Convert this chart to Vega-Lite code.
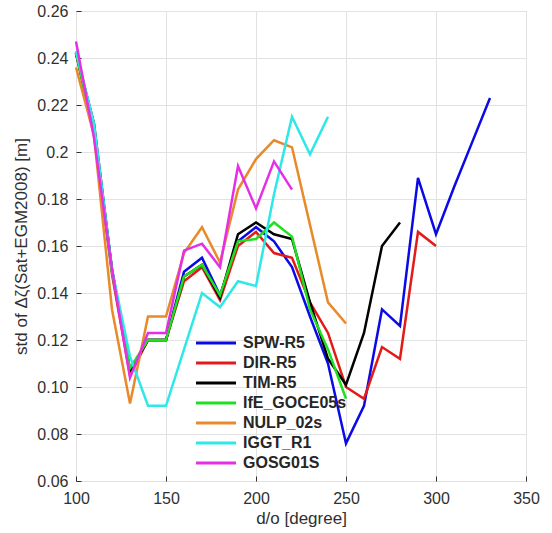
{
  "$schema": "https://vega.github.io/schema/vega-lite/v6.json",
  "autosize": "none",
  "width": 450,
  "height": 470,
  "padding": {"left": 76, "top": 11, "right": 26, "bottom": 52},
  "background": "white",
  "config": {
    "font": "Liberation Sans",
    "view": {"stroke": "#a8a8a8", "strokeWidth": 1},
    "axis": {
      "grid": true, "gridColor": "#e2e2e2", "gridWidth": 1,
      "domain": false,
      "tickColor": "#303030", "tickSize": -5, "tickWidth": 1,
      "labelColor": "#303030", "labelFontSize": 16, "labelFont": "Liberation Sans",
      "titleColor": "#303030", "titleFont": "Liberation Sans", "titleFontWeight": "normal", "titleFontSize": 17
    }
  },
  "data": {"values": [
    {"s":"SPW-R5","x":100,"y":0.242},{"s":"SPW-R5","x":110,"y":0.209},{"s":"SPW-R5","x":120,"y":0.150},{"s":"SPW-R5","x":130,"y":0.107},{"s":"SPW-R5","x":140,"y":0.120},{"s":"SPW-R5","x":150,"y":0.120},{"s":"SPW-R5","x":160,"y":0.149},{"s":"SPW-R5","x":170,"y":0.155},{"s":"SPW-R5","x":180,"y":0.139},{"s":"SPW-R5","x":190,"y":0.162},{"s":"SPW-R5","x":200,"y":0.168},{"s":"SPW-R5","x":210,"y":0.162},{"s":"SPW-R5","x":220,"y":0.151},{"s":"SPW-R5","x":230,"y":0.130},{"s":"SPW-R5","x":240,"y":0.110},{"s":"SPW-R5","x":250,"y":0.076},{"s":"SPW-R5","x":260,"y":0.092},{"s":"SPW-R5","x":270,"y":0.133},{"s":"SPW-R5","x":280,"y":0.126},{"s":"SPW-R5","x":290,"y":0.189},{"s":"SPW-R5","x":300,"y":0.165},{"s":"SPW-R5","x":310,"y":0.185},{"s":"SPW-R5","x":320,"y":0.204},{"s":"SPW-R5","x":330,"y":0.223},
    {"s":"DIR-R5","x":100,"y":0.242},{"s":"DIR-R5","x":110,"y":0.208},{"s":"DIR-R5","x":120,"y":0.148},{"s":"DIR-R5","x":130,"y":0.105},{"s":"DIR-R5","x":140,"y":0.120},{"s":"DIR-R5","x":150,"y":0.120},{"s":"DIR-R5","x":160,"y":0.145},{"s":"DIR-R5","x":170,"y":0.151},{"s":"DIR-R5","x":180,"y":0.137},{"s":"DIR-R5","x":190,"y":0.160},{"s":"DIR-R5","x":200,"y":0.166},{"s":"DIR-R5","x":210,"y":0.157},{"s":"DIR-R5","x":220,"y":0.155},{"s":"DIR-R5","x":230,"y":0.136},{"s":"DIR-R5","x":240,"y":0.123},{"s":"DIR-R5","x":250,"y":0.100},{"s":"DIR-R5","x":260,"y":0.095},{"s":"DIR-R5","x":270,"y":0.117},{"s":"DIR-R5","x":280,"y":0.112},{"s":"DIR-R5","x":290,"y":0.166},{"s":"DIR-R5","x":300,"y":0.160},
    {"s":"TIM-R5","x":100,"y":0.242},{"s":"TIM-R5","x":110,"y":0.212},{"s":"TIM-R5","x":120,"y":0.150},{"s":"TIM-R5","x":130,"y":0.107},{"s":"TIM-R5","x":140,"y":0.120},{"s":"TIM-R5","x":150,"y":0.120},{"s":"TIM-R5","x":160,"y":0.147},{"s":"TIM-R5","x":170,"y":0.152},{"s":"TIM-R5","x":180,"y":0.138},{"s":"TIM-R5","x":190,"y":0.165},{"s":"TIM-R5","x":200,"y":0.170},{"s":"TIM-R5","x":210,"y":0.165},{"s":"TIM-R5","x":220,"y":0.163},{"s":"TIM-R5","x":230,"y":0.136},{"s":"TIM-R5","x":240,"y":0.112},{"s":"TIM-R5","x":250,"y":0.101},{"s":"TIM-R5","x":260,"y":0.123},{"s":"TIM-R5","x":270,"y":0.160},{"s":"TIM-R5","x":280,"y":0.170},
    {"s":"IfE_GOCE05s","x":100,"y":0.242},{"s":"IfE_GOCE05s","x":110,"y":0.209},{"s":"IfE_GOCE05s","x":120,"y":0.149},{"s":"IfE_GOCE05s","x":130,"y":0.108},{"s":"IfE_GOCE05s","x":140,"y":0.120},{"s":"IfE_GOCE05s","x":150,"y":0.120},{"s":"IfE_GOCE05s","x":160,"y":0.147},{"s":"IfE_GOCE05s","x":170,"y":0.152},{"s":"IfE_GOCE05s","x":180,"y":0.139},{"s":"IfE_GOCE05s","x":190,"y":0.162},{"s":"IfE_GOCE05s","x":200,"y":0.163},{"s":"IfE_GOCE05s","x":210,"y":0.170},{"s":"IfE_GOCE05s","x":220,"y":0.164},{"s":"IfE_GOCE05s","x":230,"y":0.133},{"s":"IfE_GOCE05s","x":240,"y":0.116},{"s":"IfE_GOCE05s","x":250,"y":0.095},
    {"s":"NULP_02s","x":100,"y":0.236},{"s":"NULP_02s","x":110,"y":0.207},{"s":"NULP_02s","x":120,"y":0.133},{"s":"NULP_02s","x":130,"y":0.093},{"s":"NULP_02s","x":140,"y":0.130},{"s":"NULP_02s","x":150,"y":0.130},{"s":"NULP_02s","x":160,"y":0.157},{"s":"NULP_02s","x":170,"y":0.168},{"s":"NULP_02s","x":180,"y":0.153},{"s":"NULP_02s","x":190,"y":0.184},{"s":"NULP_02s","x":200,"y":0.197},{"s":"NULP_02s","x":210,"y":0.205},{"s":"NULP_02s","x":220,"y":0.202},{"s":"NULP_02s","x":230,"y":0.169},{"s":"NULP_02s","x":240,"y":0.136},{"s":"NULP_02s","x":250,"y":0.127},
    {"s":"IGGT_R1","x":100,"y":0.243},{"s":"IGGT_R1","x":110,"y":0.212},{"s":"IGGT_R1","x":120,"y":0.150},{"s":"IGGT_R1","x":130,"y":0.113},{"s":"IGGT_R1","x":140,"y":0.092},{"s":"IGGT_R1","x":150,"y":0.092},{"s":"IGGT_R1","x":160,"y":0.116},{"s":"IGGT_R1","x":170,"y":0.140},{"s":"IGGT_R1","x":180,"y":0.134},{"s":"IGGT_R1","x":190,"y":0.145},{"s":"IGGT_R1","x":200,"y":0.143},{"s":"IGGT_R1","x":210,"y":0.182},{"s":"IGGT_R1","x":220,"y":0.215},{"s":"IGGT_R1","x":230,"y":0.199},{"s":"IGGT_R1","x":240,"y":0.215},
    {"s":"GOSG01S","x":100,"y":0.247},{"s":"GOSG01S","x":110,"y":0.206},{"s":"GOSG01S","x":120,"y":0.150},{"s":"GOSG01S","x":130,"y":0.104},{"s":"GOSG01S","x":140,"y":0.123},{"s":"GOSG01S","x":150,"y":0.123},{"s":"GOSG01S","x":160,"y":0.158},{"s":"GOSG01S","x":170,"y":0.161},{"s":"GOSG01S","x":180,"y":0.151},{"s":"GOSG01S","x":190,"y":0.194},{"s":"GOSG01S","x":200,"y":0.176},{"s":"GOSG01S","x":210,"y":0.196},{"s":"GOSG01S","x":220,"y":0.184}
  ]},
  "mark": {"type": "line", "strokeWidth": 2.5, "strokeJoin": "miter"},
  "encoding": {
    "x": {
      "field": "x", "type": "quantitative",
      "scale": {"domain": [100, 350], "nice": false, "zero": false},
      "axis": {"values": [100, 150, 200, 250, 300, 350], "title": "d/o [degree]", "labelPadding": 14, "titlePadding": 4, "labelFlush": false}
    },
    "y": {
      "field": "y", "type": "quantitative",
      "scale": {"domain": [0.06, 0.26], "nice": false, "zero": false},
      "axis": {
        "values": [0.06, 0.08, 0.1, 0.12, 0.14, 0.16, 0.18, 0.2, 0.22, 0.24, 0.26],
        "labelExpr": "datum.value == 0.2 ? '0.2' : format(datum.value, '.2f')",
        "title": "std of Δζ(Sat+EGM2008) [m]", "labelPadding": 13, "titlePadding": 6, "labelFlush": false
      }
    },
    "color": {
      "field": "s", "type": "nominal", "sort": null,
      "scale": {
        "domain": ["SPW-R5", "DIR-R5", "TIM-R5", "IfE_GOCE05s", "NULP_02s", "IGGT_R1", "GOSG01S"],
        "range": ["#0a0ae6", "#e21a1a", "#000000", "#1ee01e", "#e8892a", "#2ee8e8", "#e62ee6"]
      },
      "legend": {
        "title": null, "orient": "none", "legendX": 132, "legendY": 324,
        "symbolType": "M-4,0L4,0", "symbolSize": 100, "symbolStrokeWidth": 3,
        "labelFontSize": 16, "labelFontWeight": "bold", "labelColor": "#262626", "labelFont": "Liberation Sans",
        "labelOffset": 19, "rowPadding": 4
      }
    }
  }
}
